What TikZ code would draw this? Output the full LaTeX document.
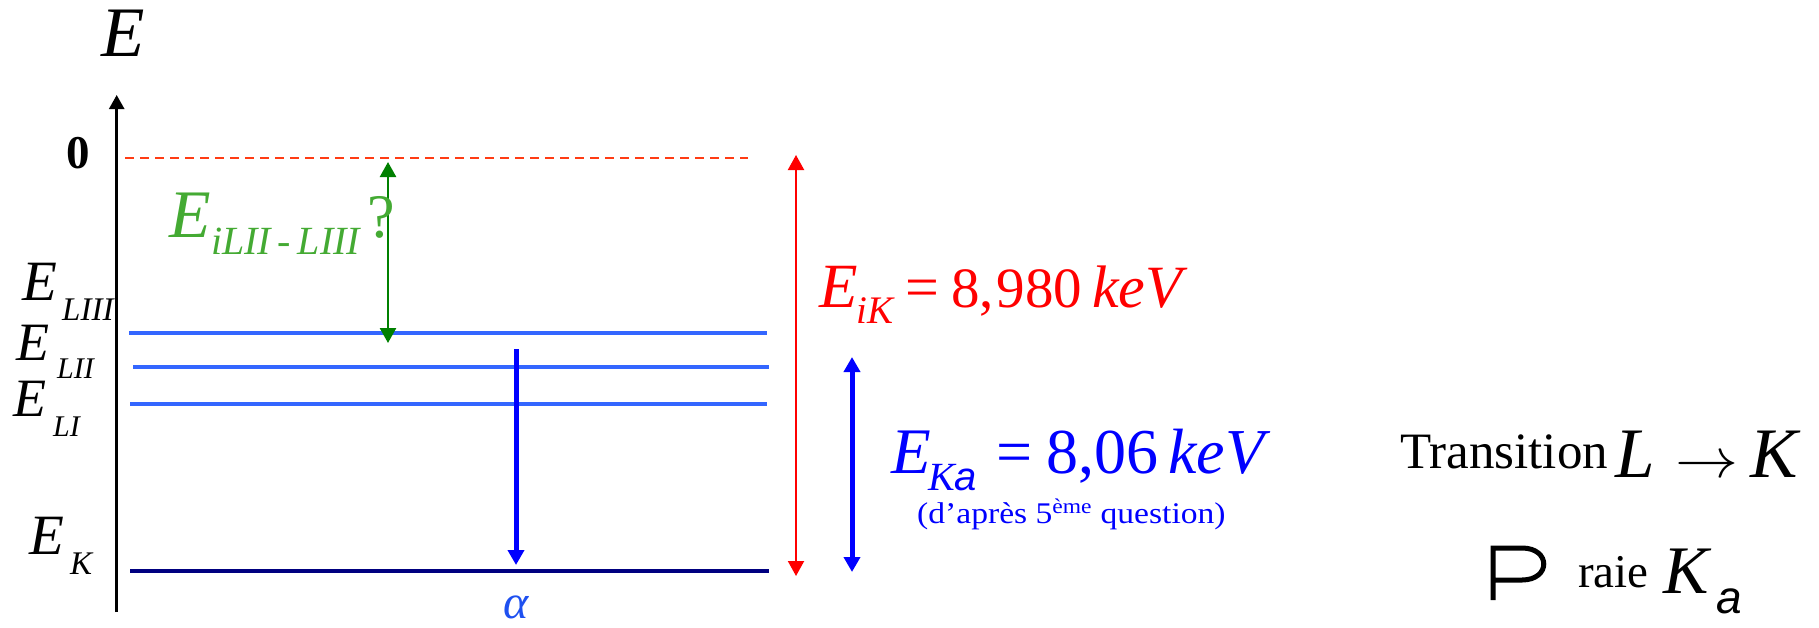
\documentclass[tikz,border=0pt]{standalone}
\usepackage{fontspec}
\setmainfont{Liberation Serif}
\newfontfamily\lsans{Liberation Sans}
\usetikzlibrary{arrows.meta}
\newcommand{\myfs}[1]{\fontsize{#1pt}{#1pt}\selectfont}
\definecolor{lvlblue}{RGB}{51,102,255}
\definecolor{navylvl}{RGB}{0,0,128}
\definecolor{dashred}{RGB}{255,60,20}
\definecolor{gtext}{RGB}{68,170,51}
\definecolor{garrow}{RGB}{0,128,0}
\definecolor{pblue}{RGB}{0,0,255}
\definecolor{ablue}{RGB}{30,80,240}
\definecolor{pred}{RGB}{255,0,0}
\begin{document}
\begin{tikzpicture}[x=1pt,y=-1pt,
  lbl/.style={inner sep=0pt,anchor=base west},
  level/.style={lvlblue,line width=3.3pt},
  tipA/.style={-{Triangle[width=16pt,length=15pt]}},
  tipB/.style={{Triangle[width=16pt,length=15pt]}-{Triangle[width=16pt,length=15pt]}}]
\useasboundingbox (0,0) rectangle (1819,627);
% axis
\coordinate (axB) at (116.7,612);
\coordinate (axT) at (116.7,95);
\draw[line width=2.5pt,-{Triangle[width=15pt,length=14pt]}] (axB) -- (axT);
\node[lbl] (Etop) at (101,56) {\myfs{71}\itshape E};
\node[lbl] (zero) at (66,168) {\myfs{47}\bfseries 0};
% zero level
\coordinate (Z0a) at (125,158);
\coordinate (Z0b) at (748,158);
\draw[dashred,line width=2pt,dash pattern=on 9pt off 6pt] (Z0a) -- (Z0b);
% levels
\coordinate (L3a) at (129,333); \coordinate (L3b) at (767,333);
\coordinate (L2a) at (133,367); \coordinate (L2b) at (769,367);
\coordinate (L1a) at (130,404); \coordinate (L1b) at (767,404);
\coordinate (Ka) at (130,571);  \coordinate (Kb) at (769,571);
\draw[level] (L3a) -- (L3b);
\draw[level] (L2a) -- (L2b);
\draw[level] (L1a) -- (L1b);
\draw[navylvl,line width=4pt] (Ka) -- (Kb);
% level labels
\node[lbl] (EL3) at (22,300) {\myfs{57}\itshape E};
\node[lbl] (EL3s) at (62,320) {\myfs{33}\itshape LIII};
\node[lbl] (EL2) at (16,360) {\myfs{54}\itshape E};
\node[lbl] (EL2s) at (57,378) {\myfs{30}\itshape LII};
\node[lbl] (EL1) at (13,416) {\myfs{54}\itshape E};
\node[lbl] (EL1s) at (53,436) {\myfs{30}\itshape LI};
\node[lbl] (EK) at (29,554) {\myfs{57}\itshape E};
\node[lbl] (EKs) at (70,574) {\myfs{33}\itshape K};
% green ionisation L
\coordinate (gT) at (388,162);
\coordinate (gB) at (388,343);
\draw[garrow,line width=2.5pt,tipB] (gT) -- (gB);
\node[lbl,gtext] (Eg) at (169,237) {\myfs{68}\itshape E};
\node[lbl,gtext] (Egs) at (211,254) {\myfs{40}\itshape iLII\,-\,LIII};
\node[lbl,gtext] (Egq) at (367,237) {\myfs{62}?};
% transition alpha
\coordinate (aT) at (516,349);
\coordinate (aB) at (516,565);
\draw[pblue,line width=5pt,tipA] (aT) -- (aB);
\node[lbl,ablue] (alpha) at (503,618) {\myfs{48}\itshape α};
% red ionisation K
\coordinate (rT) at (796,155);
\coordinate (rB) at (796,576);
\draw[pred,line width=2pt,tipB] (rT) -- (rB);
\node[lbl,pred] (ER) at (819,307) {\myfs{63}\itshape E};
\node[lbl,pred] (ERs) at (856,323) {\myfs{39}\itshape iK};
\node[lbl,pred] (ReqR) at (905,307) {\myfs{60}=};
\node[lbl,pred] (RvalR) at (951,307) {\myfs{57}8,\kern0.05em980};
\node[lbl,pred] (RuR) at (1092,307) {\myfs{60}\itshape keV};
% blue K alpha
\coordinate (bT) at (852,357);
\coordinate (bB) at (852,572);
\draw[pblue,line width=5pt,tipB] (bT) -- (bB);
\node[lbl,pblue] (EB) at (891,473) {\myfs{65}\itshape E};
\node[lbl,pblue] (EBs) at (928,490) {\myfs{40}\itshape K{\lsans a}};
\node[lbl,pblue] (BeqB) at (996,473) {\myfs{64}=};
\node[lbl,pblue] (BvalB) at (1046,473) {\myfs{64}8,06};
\node[lbl,pblue] (BuB) at (1168,473) {\myfs{64}\itshape keV};
\node[lbl,pblue] (Bnote) at (917,523) {\myfs{30}\scalebox{1.12}[1]{(d’après 5\textsuperscript{ème} question)}};
% right text
\node[lbl] (trans) at (1400,468) {\myfs{51}Transition};
\node[lbl] (tL) at (1615,477) {\myfs{71}\itshape L};
\node[lbl] (tarr) at (1675,477) {\scalebox{6.3}[5.6]{$\rightarrow$}};
\node[lbl] (tK) at (1750,477) {\myfs{71}\itshape K};
\draw[line width=5pt] (1493,600) -- (1493,548) -- (1522,548)
  .. controls (1551,548) and (1551,580) .. (1522,580) -- (1493,580);
\node[lbl] (raie) at (1578,587) {\myfs{47}raie};
\node[lbl] (rK) at (1663,593) {\myfs{68}\itshape K};
\node[lbl] (ra) at (1716,613) {\myfs{46}\lsans\itshape a};
\end{tikzpicture}
\end{document}
